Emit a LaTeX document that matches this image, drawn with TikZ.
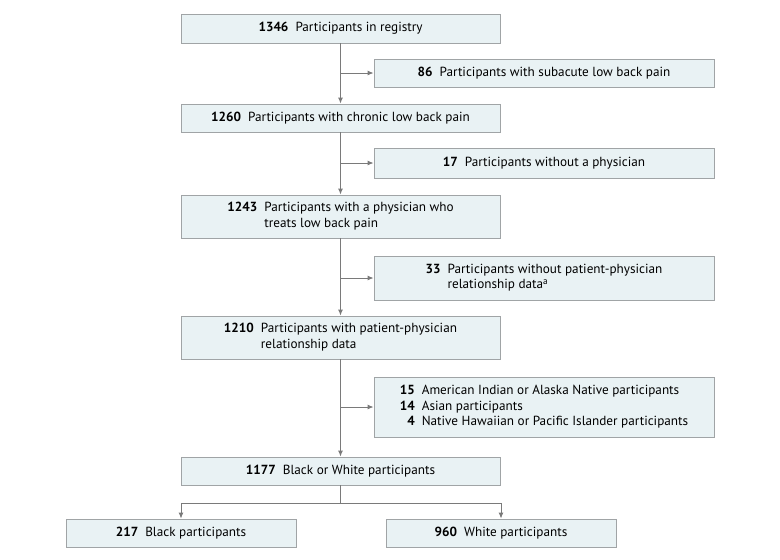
\documentclass[tikz,border=0pt]{standalone}
\usepackage{fontspec}
\setmainfont{PT Sans}
\usetikzlibrary{arrows.meta}
\definecolor{boxfill}{HTML}{E9F2F4}
\definecolor{boxline}{HTML}{A0A4A6}
\definecolor{arrowline}{HTML}{7A7A7A}
\newcommand{\cnt}[1]{\textbf{#1}}

\begin{document}
\begin{tikzpicture}[x=1pt,y=-1pt]
      \tikzset{box/.style = {shape=rectangle,draw=boxline,fill=boxfill,line width=0.9pt,inner sep=0pt,align=center,font=\fontsize{13.2}{15.5}\selectfont}}
      \tikzset{mainbox/.style = {box,minimum width=319pt}}
      \tikzset{sidebox/.style = {box,minimum width=340pt}}
      \tikzset{endbox/.style = {box,minimum width=230pt,minimum height=28pt}}
      \tikzset{line/.style = {draw=arrowline,line width=0.9pt}}
      \tikzset{edge/.style = {line,-{Latex[length=6pt,width=5pt]}}}
      \useasboundingbox (0,0) rectangle (780,560);

      \node[mainbox,minimum height=29pt] (1) at (340.5, 28.5) {\cnt{1346}\ \ Participants in registry};
      \node[sidebox,minimum height=28pt] (s1) at (544, 73) {\cnt{86}\ \ Participants with subacute low back pain};
      \node[mainbox,minimum height=28pt] (2) at (340.5, 118) {\cnt{1260}\ \ Participants with chronic low back pain};
      \node[sidebox,minimum height=30pt] (s2) at (544, 163) {\cnt{17}\ \ Participants without a physician};
      \node[mainbox,minimum height=43pt] (3) at (340.5, 216.5) {\begin{tabular}{@{}r@{\ \ }l@{}}\cnt{1243} & Participants with a physician who\\ & treats low back pain\end{tabular}};
      \node[sidebox,minimum height=44pt] (s3) at (544, 278) {\begin{tabular}{@{}r@{\ \ }l@{}}\cnt{33} & Participants without patient-physician\\ & relationship data\textsuperscript{a}\end{tabular}};
      \node[mainbox,minimum height=43pt] (4) at (340.5, 337.5) {\begin{tabular}{@{}r@{\ \ }l@{}}\cnt{1210} & Participants with patient-physician\\ & relationship data\end{tabular}};
      \node[sidebox,minimum height=60pt] (s4) at (544, 407) {\begin{tabular}{@{}r@{\ \ }l@{}}\cnt{15} & American Indian or Alaska Native participants\\ \cnt{14} & Asian participants\\ \cnt{4} & Native Hawaiian or Pacific Islander participants\end{tabular}};
      \node[mainbox,minimum height=28pt] (5) at (340.5, 471) {\cnt{1177}\ \ Black or White participants};
      \node[endbox] (6) at (181, 533) {\cnt{217}\ \ Black participants};
      \node[endbox] (7) at (501, 533) {\cnt{960}\ \ White participants};

      \coordinate (j1) at (340.5, 73);
      \coordinate (j2) at (340.5, 163);
      \coordinate (j3) at (340.5, 278);
      \coordinate (j4) at (340.5, 407);
      \coordinate (sp) at (340.5, 503);

      \draw[edge] (1) -- (2);
      \draw[edge] (2) -- (3);
      \draw[edge] (3) -- (4);
      \draw[edge] (4) -- (5);
      \draw[edge] (j1) -- (s1);
      \draw[edge] (j2) -- (s2);
      \draw[edge] (j3) -- (s3);
      \draw[edge] (j4) -- (s4);
      \draw[line] (5) -- (sp);
      \draw[edge] (sp) -| (6);
      \draw[edge] (sp) -| (7);
    \end{tikzpicture}
\end{document}
